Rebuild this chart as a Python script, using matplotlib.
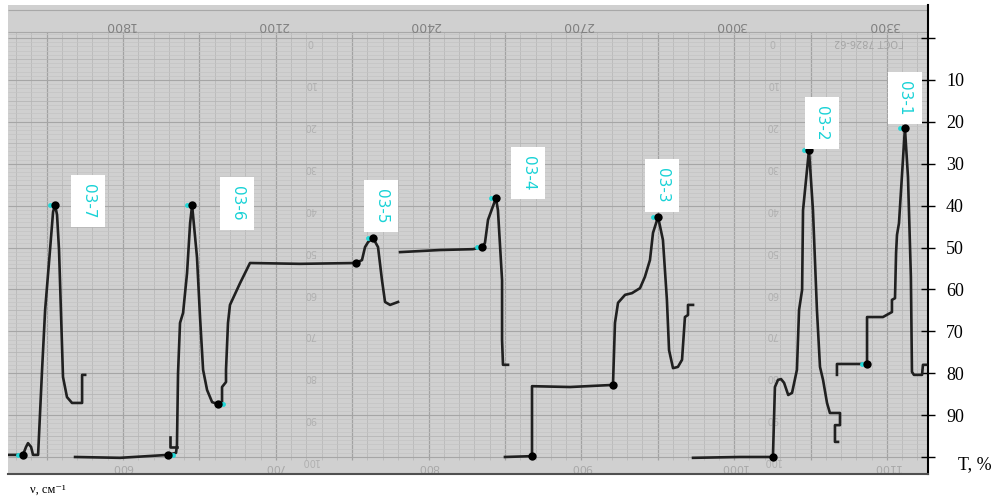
import matplotlib
matplotlib.use("Agg")
import numpy as np
import matplotlib.pyplot as plt
import matplotlib.transforms as mtransforms

plt.rcParams['font.family'] = ['Liberation Serif', 'DejaVu Serif']

# ---------------- values ----------------
# x = wavenumber (cm-1, lower paper scale), y = transmittance T, %
nu_37 = [524.7, 534.5, 536.5, 537.8, 539.8, 541.1, 544.4, 547.0, 549.0, 552.2, 554.2, 555.5,
         556.8, 558.1, 560.7, 563.3, 566.6, 573.2, 573.2, 575.2]
t_37 = [99.5, 99.5, 97.6, 96.7, 97.6, 99.5, 99.5, 79.2, 64.9, 50.6, 41.5, 39.9,
        42.2, 50.6, 80.9, 85.7, 87.1, 87.1, 80.4, 80.4]

nu_36 = [568.6, 598.0, 629.5, 634.7, 635.3, 636.0, 637.3, 639.3, 641.9, 643.9, 645.2, 648.4,
         650.4, 652.4, 655.0, 658.3, 662.2, 664.8, 664.8, 667.4, 667.4, 668.7, 670.0, 676.6,
         683.1, 715.8, 752.5]
t_36 = [100.0, 100.2, 99.5, 99.0, 97.1, 80.0, 68.0, 65.6, 56.1, 44.2, 39.9, 52.3,
        66.6, 79.2, 84.0, 86.9, 87.4, 87.1, 83.3, 82.1, 79.2, 68.0, 63.7, 58.5,
        53.7, 53.9, 53.7]
nu_36_hook = [630.8, 630.8, 635.3]
t_36_hook = [95.2, 97.6, 97.6]

nu_35 = [752.5, 756.4, 758.4, 760.4, 763.6, 766.9, 769.5, 771.5, 774.8, 780.0]
t_35 = [53.7, 53.0, 49.9, 48.7, 47.7, 49.9, 57.8, 63.0, 63.7, 63.0]

nu_34 = [781.3, 807.5, 829.1, 835.0, 836.9, 838.9, 844.1, 845.4, 848.1, 848.1, 848.7, 852.0]
t_34 = [51.1, 50.6, 50.4, 49.9, 48.9, 43.4, 38.2, 41.1, 57.8, 72.1, 78.0, 78.0]

nu_33 = [850.0, 867.7, 867.7, 892.6, 920.7, 922.0, 924.0, 928.6, 933.1, 938.4, 941.6, 944.9,
         946.9, 950.2, 953.4, 956.0, 957.4, 960.0, 963.2, 965.9, 967.8, 969.8, 969.8, 973.1]
t_33 = [100.0, 99.8, 83.1, 83.3, 82.8, 68.0, 63.2, 61.3, 60.9, 59.7, 57.0, 53.0,
        46.5, 42.7, 48.2, 62.5, 74.5, 78.8, 78.5, 76.8, 66.6, 66.1, 63.7, 63.7]

nu_32 = [973.1, 1003.8, 1025.4, 1026.7, 1028.7, 1030.7, 1032.7, 1035.4, 1037.9, 1041.1, 1042.5,
         1044.5, 1045.1, 1049.0, 1051.6, 1054.2, 1056.2, 1058.2, 1060.8, 1062.7, 1069.3, 1069.3,
         1066.0, 1066.0, 1068.0]
t_32 = [100.2, 100.0, 100.0, 83.3, 81.6, 81.4, 82.3, 85.2, 84.7, 79.2, 64.9,
        60.1, 41.1, 26.7, 41.1, 64.9, 78.5, 81.6, 87.1, 89.5, 89.5, 92.4,
        92.4, 96.4, 96.4]

nu_31 = [1067.3, 1067.3, 1087.0, 1087.0, 1097.4, 1103.3, 1103.3, 1105.3, 1106.0, 1106.6,
         1107.9, 1111.8, 1113.8, 1115.7, 1116.4, 1117.7, 1123.0, 1123.6, 1125.6]
t_31 = [80.4, 77.8, 77.8, 66.6, 66.6, 65.4, 62.5, 62.1, 51.3, 47.0,
        44.2, 21.5, 33.2, 57.0, 79.7, 80.4, 80.4, 78.0, 78.0]

# marked points (black dots) and the side of the small cyan mark (-1 left, 1 right, 0 none)
dot_nu = [534.5, 555.5, 629.5, 645.2, 662.2, 752.5, 763.6, 835.0, 844.1, 867.7, 920.7,
          950.2, 1025.4, 1049.0, 1087.0, 1111.8]
dot_t = [99.5, 39.9, 99.5, 39.9, 87.4, 53.7, 47.7, 49.9, 38.2, 99.8, 82.8,
         42.7, 100.0, 26.7, 77.8, 21.5]
cyan_side = [-1, -1, 1, -1, 1, 0, -1, -1, -1, 0, 0, -1, 0, -1, -1, -1]

peak_labels = ["03-7", "03-6", "03-5", "03-4", "03-3", "03-2", "03-1"]
label_nu = [577.1, 674.6, 768.9, 865.1, 952.8, 1057.5, 1111.8]
label_t = [38.9, 39.4, 40.1, 32.2, 35.1, 20.3, 14.3]

bottom_ticks = [600, 700, 800, 900, 1000, 1100]
top_ticks = [1800, 2100, 2400, 2700, 3000, 3300]
t_ticks = [0, 10, 20, 30, 40, 50, 60, 70, 80, 90, 100]

segments = [(nu_37, t_37), (nu_36, t_36), (nu_36_hook, t_36_hook), (nu_35, t_35),
            (nu_34, t_34), (nu_33, t_33), (nu_32, t_32), (nu_31, t_31)]

# ---------------- figure ----------------
W, H = 1007, 499
fig = plt.figure(figsize=(W / 100, H / 100), dpi=100)
fig.patch.set_facecolor('white')
ax = fig.add_axes([8 / W, 25 / H, 920 / W, 469 / H])
x0, x1 = 524.7, 1126.9
y_top, y_bot = -7.88, 104.06
ax.set_xlim(x0, x1)
ax.set_ylim(y_bot, y_top)
ax.set_facecolor('#d0d0d0')

# chart paper grid
g_top, g_bot = -1.4, 100.7
for v in np.arange(530, 1130, 10):
    major = v % 50 == 0
    ax.vlines(v, g_top, g_bot, color='#a2a2a2' if major else '#b9b9b9',
              lw=0.9 if major else 0.6, zorder=1)
for v in np.arange(-1, 101, 1):
    if v % 10 == 0:
        c, w = '#a6a6a6', 0.8
    elif v % 5 == 0:
        c, w = '#b6b6b6', 0.6
    else:
        c, w = '#c4c4c4', 0.5
    ax.hlines(v, x0, x1, color=c, lw=w, zorder=1)
ax.hlines([g_top, -6.7], x0, x1, color='#a8a8a8', lw=0.8, zorder=1)

# upside-down printed scales of the paper
for b, tp in zip(bottom_ticks, top_ticks):
    ax.text(b - 2, -3.1, str(tp), rotation=180, ha='center', va='center',
            fontsize=9, color='#808080', family='DejaVu Sans', zorder=2)
    ax.text(b, 102.4, str(b), rotation=180, ha='center', va='center',
            fontsize=8, color='#a8a8a8', family='DejaVu Sans', zorder=2)
for xc in (722.4, 1024.8):
    for v in t_ticks:
        ax.text(xc, v + 1, str(v), rotation=180, ha='center', va='center',
                fontsize=7, color='#b0b0b0', family='DejaVu Sans', zorder=2)
ax.text(1088, 1.0, "ГОСТ 7826-62", rotation=180, ha='center', va='center',
        fontsize=7, color='#a4a4a4', family='DejaVu Sans', zorder=2)

# spectrum trace
for xs, ys in segments:
    ax.plot(xs, ys, color='#202020', lw=1.9, solid_joinstyle='round', zorder=3)

# cyan marks next to the dots, then the dots
for xd, yd, s in zip(dot_nu, dot_t, cyan_side):
    if s != 0:
        tr = mtransforms.offset_copy(ax.transData, fig=fig, x=3.5 * s, y=0, units='points')
        ax.plot(xd, yd, 'o', ms=3.5, color='#22d8d8', mec='none', transform=tr, zorder=4)
ax.plot(dot_nu, dot_t, 'o', ms=6, color='black', mec='none', zorder=5)

# peak labels
for lab, xl, yl in zip(peak_labels, label_nu, label_t):
    ax.text(xl, yl, lab, rotation=270, ha='center', va='center', fontsize=11,
            color='#19d2d6', family='DejaVu Sans', zorder=6,
            bbox=dict(boxstyle='square,pad=0.6', fc='white', ec='none'))

# axes frame / right transmittance scale
for side in ('left', 'top'):
    ax.spines[side].set_visible(False)
ax.spines['right'].set_color('black')
ax.spines['right'].set_linewidth(1.5)
ax.spines['bottom'].set_color('#505050')
ax.spines['bottom'].set_linewidth(1.5)
ax.set_xticks([])
ax.yaxis.tick_right()
ax.set_yticks(t_ticks)
ax.set_yticklabels([''] + [str(v) for v in t_ticks[1:-1]] + [''])
ax.tick_params(axis='y', direction='inout', length=10, width=1, pad=8, labelsize=13)

fig.text(975 / W, 1 - 465 / H, "T, %", ha='center', va='center', fontsize=13)
fig.text(30 / W, 1 - 490 / H, "ν, см⁻¹", ha='left', va='center', fontsize=9)

fig.savefig("out.png", dpi=100)
